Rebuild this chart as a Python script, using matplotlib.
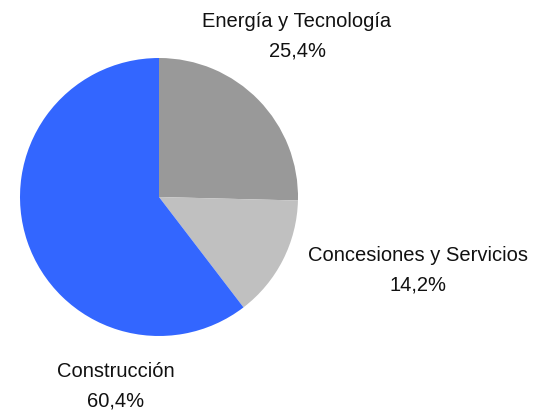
import matplotlib.pyplot as plt

labels = ['Energía y Tecnología', 'Concesiones y Servicios', 'Construcción']
shares = [25.4, 14.2, 60.4]
colors = ['#999999', '#c0c0c0', '#3366ff']
# label anchor points in pixels (x, y from top)
label_pos = [(297, 36), (418, 270), (116, 386)]

plt.rcParams['font.family'] = ['Liberation Sans', 'DejaVu Sans']

W, H = 536, 412
fig = plt.figure(figsize=(W / 100, H / 100), dpi=100)
ax = fig.add_axes([0, 0, 1, 1])

ax.pie(shares, colors=colors, startangle=90, counterclock=False,
       center=(159, H - 197), radius=139, frame=True,
       wedgeprops={'linewidth': 0})
ax.set_xlim(0, W)
ax.set_ylim(0, H)
ax.set_aspect('equal')
ax.axis('off')

for name, val, (x, y) in zip(labels, shares, label_pos):
    txt = name + '\n' + f'{val:.1f}'.replace('.', ',') + '%'
    ax.text(x, H - y, txt, ha='center', va='center', fontsize=14.5,
            linespacing=1.7, color='#111111')

fig.savefig('out.png', dpi=100)
